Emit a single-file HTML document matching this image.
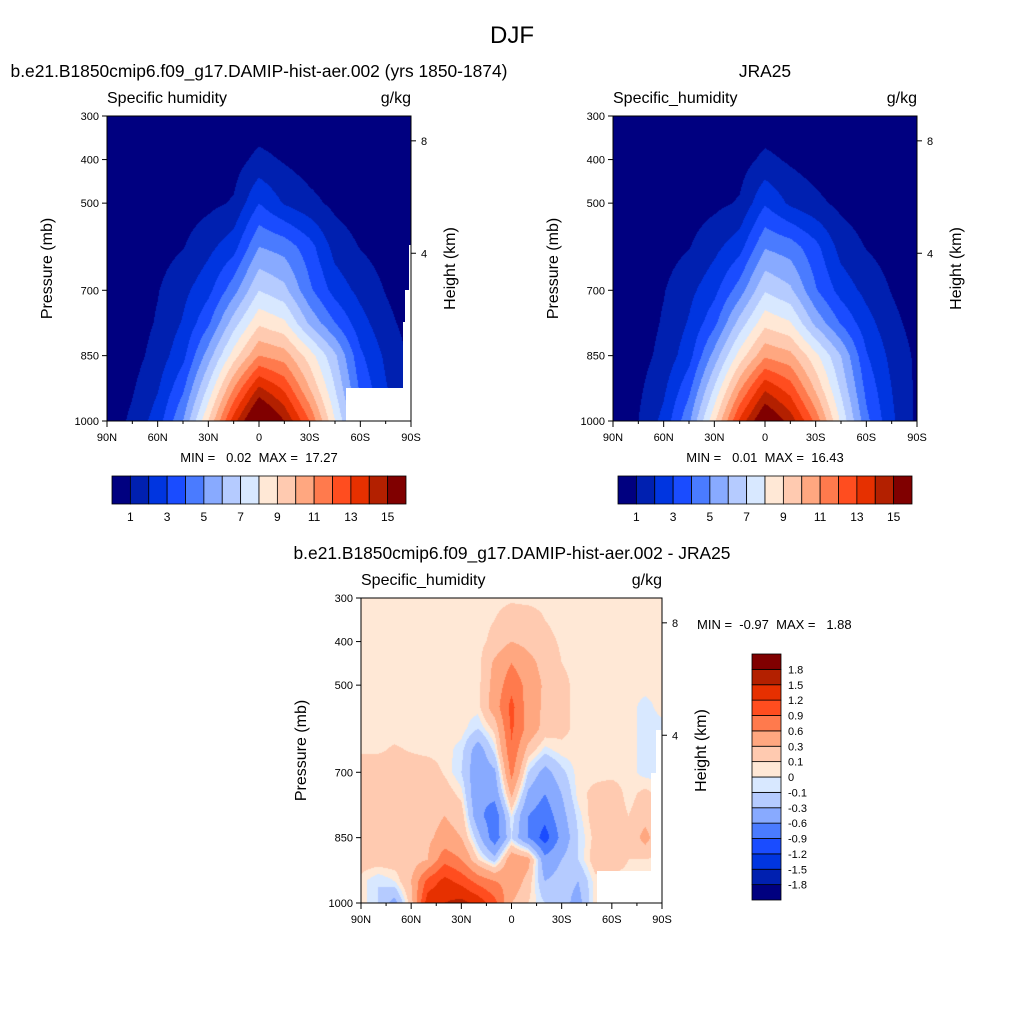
<!DOCTYPE html>
<html><head><meta charset="utf-8">
<style>
html,body{margin:0;padding:0;background:#fff;}
#wrap{position:relative;width:1024px;height:1024px;overflow:hidden;font-family:"Liberation Sans",sans-serif;}
canvas{position:absolute;}
svg{position:absolute;left:0;top:0;}
text{font-family:"Liberation Sans",sans-serif;fill:#000;}
</style></head>
<body>
<div id="wrap">
<canvas id="c1"></canvas>
<canvas id="c2"></canvas>
<canvas id="c3"></canvas>
<svg id="svg" width="1024" height="1024"></svg>
</div>
<script>
// ---- data ----
const latGridA = [90,75,60,45,30,15,0,-15,-30,-45,-60,-75,-90];
const presGridA = [300,400,500,600,700,775,850,925,1000];
const modelQ = [
 [0.02,0.03,0.06,0.1,0.15,0.2,0.3,0.25,0.15,0.1,0.06,0.03,0.02],
 [0.05,0.08,0.15,0.3,0.4,0.55,1.3,0.9,0.5,0.3,0.2,0.1,0.05],
 [0.1,0.15,0.3,0.5,0.75,1.1,3.0,1.9,1.3,0.75,0.45,0.2,0.1],
 [0.1,0.3,0.6,0.95,1.7,2.6,5.0,4.6,3.4,1.6,0.95,0.55,0.2],
 [0.2,0.5,0.95,1.7,2.7,4.6,7.0,6.3,4.2,2.6,1.7,0.95,0.4],
 [0.25,0.5,1.1,2.1,3.8,6.5,8.8,8.2,5.8,4.0,2.4,1.3,0.6],
 [0.3,0.6,1.4,2.7,5.5,8.5,11.0,10.5,8.5,6.2,3.2,1.8,0.8],
 [0.35,0.9,1.9,3.8,7.2,11.0,14.2,12.8,10.0,7.0,3.8,2.1,0.9],
 [0.4,1.2,2.5,5.0,9.0,13.5,17.2,15.0,12.0,8.0,4.5,2.5,1.0]
];
const jraQ = [
 [0.02,0.03,0.06,0.1,0.15,0.2,0.3,0.25,0.15,0.1,0.06,0.03,0.02],
 [0.05,0.08,0.15,0.3,0.4,0.55,1.25,0.85,0.5,0.3,0.2,0.1,0.05],
 [0.1,0.15,0.3,0.5,0.75,1.1,2.9,1.8,1.25,0.75,0.45,0.2,0.1],
 [0.1,0.3,0.6,0.95,1.7,2.6,4.9,4.5,3.3,1.6,0.95,0.55,0.2],
 [0.2,0.5,0.95,1.7,2.7,4.5,6.9,6.2,4.1,2.6,1.7,0.95,0.4],
 [0.25,0.5,1.1,2.1,3.7,6.4,8.7,8.1,5.7,3.9,2.4,1.3,0.6],
 [0.3,0.6,1.3,2.6,5.4,8.4,10.8,10.3,8.3,6.0,3.1,1.7,0.8],
 [0.35,0.8,1.8,3.7,7.1,10.8,13.8,12.5,9.8,6.8,3.7,2.0,0.8],
 [0.4,1.0,2.3,4.8,8.8,13.2,16.4,14.6,11.7,7.8,4.3,2.2,0.8]
];
const latGridD = [90,80,70,60,50,40,30,20,10,0,-10,-20,-30,-40,-50,-60,-70,-80,-90];
const presGridD = [300,350,400,450,500,550,600,650,700,750,800,850,900,950,1000];
const diffQ = [
 [.05,.05,.05,.05,.05,.05,.05,.05,.05,.07,.05,.05,.05,.05,.05,.05,.05,.05,.05],
 [.05,.05,.05,.05,.05,.05,.05,.05,.1,.2,.2,.1,.05,.05,.05,.05,.05,.05,.05],
 [.05,.05,.05,.05,.05,.05,.05,.05,.15,.3,.22,.15,.08,.05,.05,.05,.05,.05,.05],
 [.05,.05,.05,.05,.05,.05,.05,.05,.35,.6,.4,.2,.1,.05,.05,.05,.05,.05,.05],
 [.05,.05,.05,.05,.05,.05,.05,.05,.4,.8,.5,.25,.15,.05,.05,.05,.05,.05,.05],
 [.05,.05,.05,.05,.05,.05,.05,.05,.45,1.0,.45,.25,.15,.05,.05,.05,.05,-.05,.05],
 [.05,.05,.05,.05,.05,.05,.05,-.1,.15,.95,.5,.2,.15,.05,.05,.05,.05,-.05,-.05],
 [.08,.08,.12,.09,.06,.05,-.05,-.45,-.05,.85,.2,-.05,.05,.05,.05,.05,.05,-.05,-.05],
 [.2,.2,.2,.2,.2,.08,-.1,-.5,-.35,.7,-.1,-.4,-.15,.05,.05,.05,.05,-.05,-.05],
 [.2,.2,.2,.2,.15,.2,.05,-.55,-.5,.35,-.35,-.6,-.3,.05,.15,.2,.05,.15,.05],
 [.2,.2,.2,.2,.2,.3,.2,-.5,-.8,0,-.6,-.8,-.4,-.05,.2,.2,.1,.2,.05],
 [.2,.2,.2,.2,.25,.4,.3,-.2,-.8,-.1,-.6,-1.05,-.5,-.1,.15,.2,.1,.4,.05],
 [.2,.2,.2,.15,.3,.8,.6,.1,-.2,.5,.4,-.5,-.3,-.1,.2,.2,.1,.1,.05],
 [.05,-.1,0,.3,1.0,1.3,1.1,.8,.6,.5,.2,-.3,-.2,-.3,.05,.05,.05,.05,.05],
 [.05,-.1,-.4,.2,1.4,1.5,1.6,1.4,1.0,.3,.1,-.1,-.2,-.4,.05,.05,.05,.05,.05]
];
const qLevels = [1,2,3,4,5,6,7,8,9,10,11,12,13,14,15];
const qTickLabels = ["1","3","5","7","9","11","13","15"];
const dLevels = [-1.8,-1.5,-1.2,-0.9,-0.6,-0.3,-0.1,0,0.1,0.3,0.6,0.9,1.2,1.5,1.8];
const dLabels = ["-1.8","-1.5","-1.2","-0.9","-0.6","-0.3","-0.1","0","0.1","0.3","0.6","0.9","1.2","1.5","1.8"];
const pTicks = [300,400,500,700,850,1000];
const latTicks = [90,60,30,0,-30,-60,-90];
const latTickLabels = ["90N","60N","30N","0","30S","60S","90S"];
const hTicks = [8,4];
const hTickP = [357,615];
const palette = ["#000080","#0020b0","#0035e0","#1a4cff","#4a7bff","#88aaff","#b5cbff","#d8e8ff","#ffe8d6","#ffcab0","#ffa780","#ff7a4d","#ff4d1f","#e63000","#b32000","#800000"];

const NS="http://www.w3.org/2000/svg";
const svg=document.getElementById('svg');
function mk(tag,attrs,parent){const e=document.createElementNS(NS,tag);for(const k in attrs)e.setAttribute(k,attrs[k]);(parent||svg).appendChild(e);return e;}
function txt(x,y,s,size,anchor,parent){const t=mk('text',{x:x,y:y,'font-size':size,'text-anchor':anchor||'start'},parent);t.textContent=s;return t;}

function interp(grid,lats,pres,lat,p){
  let i=0; while(i<lats.length-2 && lat<lats[i+1]) i++;
  let fx=(lats[i]-lat)/(lats[i]-lats[i+1]); fx=Math.max(0,Math.min(1,fx));
  let j=0; while(j<pres.length-2 && p>pres[j+1]) j++;
  let fy=(p-pres[j])/(pres[j+1]-pres[j]); fy=Math.max(0,Math.min(1,fy));
  const a=grid[j][i],b=grid[j][i+1],c=grid[j+1][i],d=grid[j+1][i+1];
  return a*(1-fx)*(1-fy)+b*fx*(1-fy)+c*(1-fx)*fy+d*fx*fy;
}
function hexRgb(h){return [parseInt(h.substr(1,2),16),parseInt(h.substr(3,2),16),parseInt(h.substr(5,2),16)];}
const palRgb=palette.map(hexRgb);

function panel(o){
  const {x0,y0,W,H}=o;
  const cv=document.getElementById(o.canvas);
  cv.width=W;cv.height=H;cv.style.left=x0+'px';cv.style.top=y0+'px';
  const ctx=cv.getContext('2d');const img=ctx.createImageData(W,H);
  for(let py=0;py<H;py++){const p=300+(py+0.5)/H*700;
    for(let px=0;px<W;px++){const lat=90-(px+0.5)/W*180;
      const v=interp(o.grid,o.lats,o.pres,lat,p);
      let k=0; while(k<o.levels.length && v>=o.levels[k]) k++;
      const c=palRgb[k];const idx=(py*W+px)*4;
      img.data[idx]=c[0];img.data[idx+1]=c[1];img.data[idx+2]=c[2];img.data[idx+3]=255;}}
  ctx.putImageData(img,0,0);
  const g=mk('g',{});
  
  
  if(o.mask){const m=mk('polygon',{points:o.mask,fill:'#fff'},g);
    
    }
  const f=mk('rect',{x:x0,y:y0,width:W,height:H,fill:'none',stroke:'#000','stroke-width':1},g);
  
  
  const yP=p=>y0+(p-300)/700*H, xL=l=>x0+(90-l)/180*W;
  pTicks.forEach(p=>{const y=yP(p);mk('line',{x1:x0-5,x2:x0,y1:y,y2:y,stroke:'#000'},g);
    const t=txt(x0-8,y+4,String(p),11,'end',g);
    
    });
  for(let l=90;l>=-90;l-=15){const x=xL(l);mk('line',{x1:x,x2:x,y1:y0+H,y2:y0+H+(l%30===0?6:3),stroke:'#000'},g);}
  latTicks.forEach((l,i)=>{const t=txt(xL(l),y0+H+20,latTickLabels[i],11,'middle',g);
    
    });
  hTicks.forEach((h,i)=>{const y=yP(hTickP[i]);mk('line',{x1:x0+W,x2:x0+W+5,y1:y,y2:y,stroke:'#000'},g);
    const t=txt(x0+W+10,y+4,String(h),11,'start',g);
    
    });
  const yt=txt(0,0,'Pressure (mb)',16,'middle',g);
  yt.setAttribute('transform',`translate(${x0-55},${y0+H/2}) rotate(-90)`);
  
  
  const ht=txt(0,0,'Height (km)',16,'middle',g);
  ht.setAttribute('transform',`translate(${x0+W+44},${y0+H/2}) rotate(-90)`);
  
  
  const vl=txt(x0,y0-13,o.varName,16,'start',g);
  
  
  const ul=txt(x0+W,y0-13,'g/kg',16,'end',g);
  
  
  const tt=txt(o.titleX,y0-39,o.title,17.4,'middle',g);
  
  
  const mm=txt(o.mmX,o.mmY,o.minmax,13,o.mmAnchor,g);
  
  
  mm.setAttribute('xml:space','preserve');mm.style.whiteSpace='pre';
}
function hbar(x0,y0,W,H,name){
  const g=mk('g',{});
  
  
  const n=palette.length,bw=W/n;
  palette.forEach((c,i)=>{const r=mk('rect',{x:x0+i*bw,y:y0,width:bw,height:H,fill:c,stroke:'#000','stroke-width':0.8},g);
    
    });
  qTickLabels.forEach((s,i)=>{const t=txt(x0+(1+2*i)*bw,y0+H+17,s,12,'middle',g);
    
    });
}
function vbar(x0,y0,W,H,name){
  const g=mk('g',{});
  
  
  const n=palette.length,bh=H/n;
  palette.forEach((c,i)=>{const r=mk('rect',{x:x0,y:y0+H-(i+1)*bh,width:W,height:bh,fill:c,stroke:'#000','stroke-width':0.8},g);
    
    });
  dLabels.forEach((s,i)=>{const t=txt(x0+W+7,y0+H-(i+1)*bh+4,s,11,'start',g);
    
    });
}
const main=txt(512,43,'DJF',24,'middle');



panel({canvas:'c1',name:'model-panel',x0:107,y0:116,W:304,H:305,grid:modelQ,lats:latGridA,pres:presGridA,levels:qLevels,
  varName:'Specific humidity',title:'b.e21.B1850cmip6.f09_g17.DAMIP-hist-aer.002 (yrs 1850-1874)',titleX:259,
  minmax:'MIN =   0.02  MAX =  17.27',mmX:259,mmY:462,mmAnchor:'middle',
  mask:'411,245 409,245 409,290 405,290 405,322 403,322 403,388 346,388 346,421 411,421'});
hbar(112,476,294,28,'model-colorbar');
panel({canvas:'c2',name:'jra25-panel',x0:613,y0:116,W:304,H:305,grid:jraQ,lats:latGridA,pres:presGridA,levels:qLevels,
  varName:'Specific_humidity',title:'JRA25',titleX:765,
  minmax:'MIN =   0.01  MAX =  16.43',mmX:765,mmY:462,mmAnchor:'middle'});
hbar(618,476,294,28,'jra25-colorbar');
panel({canvas:'c3',name:'difference-panel',x0:361,y0:598,W:301,H:305,grid:diffQ,lats:latGridD,pres:presGridD,levels:dLevels,
  varName:'Specific_humidity',title:'b.e21.B1850cmip6.f09_g17.DAMIP-hist-aer.002 - JRA25',titleX:512,
  minmax:'MIN =  -0.97  MAX =   1.88',mmX:697,mmY:629,mmAnchor:'start',
  mask:'662,730 656,730 656,773 651,773 651,871 597,871 597,903 662,903'});
vbar(752,654,29,246,'difference-colorbar');
</script>
</body></html>
